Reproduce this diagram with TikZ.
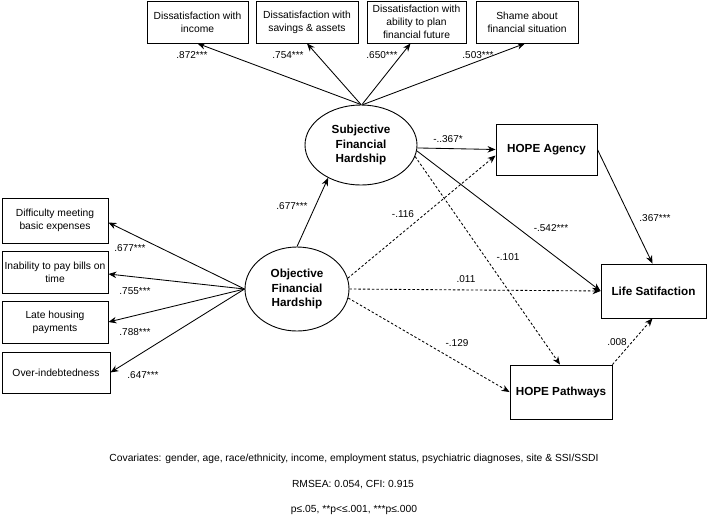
\documentclass[tikz,border=0pt]{standalone}
\usepackage{fontspec}
\setmainfont{Liberation Sans}
\usetikzlibrary{arrows.meta,shapes.geometric,calc}
\begin{document}
\begin{tikzpicture}[x=1pt,y=-1pt,
  box/.style={draw,line width=0.9pt,rectangle,inner sep=1pt,align=center,font=\fontsize{10.3}{13}\selectfont},
  bbox/.style={draw,line width=0.9pt,rectangle,inner sep=1pt,align=center,font=\fontsize{11.7}{14.5}\selectfont\bfseries},
  lat/.style={draw,line width=0.9pt,ellipse,inner sep=0pt,align=center,font=\fontsize{11.7}{14.5}\selectfont\bfseries},
  arr/.style={line width=0.85pt,-{Stealth[length=8pt,width=6.5pt]}},
  darr/.style={arr,dash pattern=on 2.5pt off 2pt},
  lab/.style={inner sep=0pt,font=\fontsize{10}{12}\selectfont},
  foot/.style={inner sep=0pt,font=\fontsize{10.3}{12}\selectfont}]
\useasboundingbox (0,0) rectangle (708,520);
% top indicator boxes
\node[box,minimum width=101pt,minimum height=42pt] (t1) at (197.5,22) {Dissatisfaction with\\income};
\node[box,minimum width=102pt,minimum height=42pt] (t2) at (307,22) {Dissatisfaction with\\savings \& assets};
\node[box,minimum width=99pt,minimum height=42pt] (t3) at (416.5,22) {Dissatisfaction with\\ability to plan\\financial future};
\node[box,minimum width=102pt,minimum height=42pt] (t4) at (527,22) {Shame about\\financial situation};
% left indicator boxes
\node[box,minimum width=106pt,minimum height=45pt] (l1) at (55,220.5) {Difficulty meeting\\basic expenses};
\node[box,minimum width=106pt,minimum height=42pt] (l2) at (55,272) {Inability to pay bills on\\time};
\node[box,minimum width=106pt,minimum height=42pt] (l3) at (55,322) {Late housing\\payments};
\node[box,minimum width=108pt,minimum height=41pt] (l4) at (56,372.5) {Over-indebtedness};
% latent variables
\node[lat,minimum width=112pt,minimum height=80pt] (sub) at (361,145) {Subjective\\Financial\\Hardship};
\node[lat,minimum width=104pt,minimum height=84pt] (obj) at (297,289) {Objective\\Financial\\Hardship};
% outcomes
\node[bbox,minimum width=101pt,minimum height=51pt] (ha) at (546.5,149.5) {HOPE Agency};
\node[bbox,minimum width=105pt,minimum height=54pt] (ls) at (653.5,291) {Life Satifaction};
\node[bbox,minimum width=102pt,minimum height=54pt] (hp) at (561,392) {HOPE Pathways};
% loadings subjective
\draw[arr] (sub.north) -- (t1.south);
\draw[arr] (sub.north) -- (t2.south);
\draw[arr] ($(sub.north)+(1,0)$) -- ($(t3.south)+(-6,0)$);
\draw[arr] ($(sub.north)+(2,0)$) -- ($(t4.south)+(-2,0)$);
% loadings objective
\draw[arr] (obj.west) -- ($(l1.east)+(0,2)$);
\draw[arr] (obj.west) -- ($(l2.east)+(0,2)$);
\draw[arr] (obj.west) -- (l3.east);
\draw[arr] (obj.west) -- (l4.east);
% structural paths
\draw[arr] (obj.north) -- (sub.225);
\draw[arr] (sub.-3) -- (ha.west);
\draw[arr] (sub.-6) -- (ls.west);
\draw[darr] (sub.-12) -- ($(hp.north)+(-1,0)$);
\draw[darr] (obj.12) -- ($(ha.west)+(0,6)$);
\draw[darr] (obj.east) -- (ls.west);
\draw[darr] (obj.-10) -- (hp.west);
\draw[arr] (ha.east) -- ($(ls.north)+(-1,0)$);
\draw[darr] (hp.north east) -- ($(ls.south)+(-1,0)$);
% labels
\node[lab] (a1) at (192,55) {.872***};
\node[lab] (a2) at (288,55) {.754***};
\node[lab] (a3) at (382,55) {.650***};
\node[lab] (a4) at (478,55) {.503***};
\node[lab] (b1) at (130,248) {.677***};
\node[lab] (b2) at (135,291) {.755***};
\node[lab] (b3) at (135,332) {.788***};
\node[lab] (b4) at (143,375) {.647***};
\node[lab] (c1) at (292,206) {.677***};
\node[lab] (c2) at (448,139) {-..367*};
\node[lab] (c3) at (403,214) {-.116};
\node[lab] (c4) at (551,228) {-.542***};
\node[lab] (c5) at (508,257) {-.101};
\node[lab] (c6) at (466,279) {.011};
\node[lab] (c7) at (457,343) {-.129};
\node[lab] (c8) at (655,218) {.367***};
\node[lab] (c9) at (617,342) {.008};
% footnotes
\node[foot] (f1) at (354,459) {Covariates: gender, age, race/ethnicity, income, employment status, psychiatric diagnoses, site \& SSI/SSDI};
\node[foot] (f2) at (353,485) {RMSEA: 0.054, CFI: 0.915};
\node[foot] (f3) at (354,510) {p≤.05, **p<≤.001, ***p≤.000};
\end{tikzpicture}
\end{document}
